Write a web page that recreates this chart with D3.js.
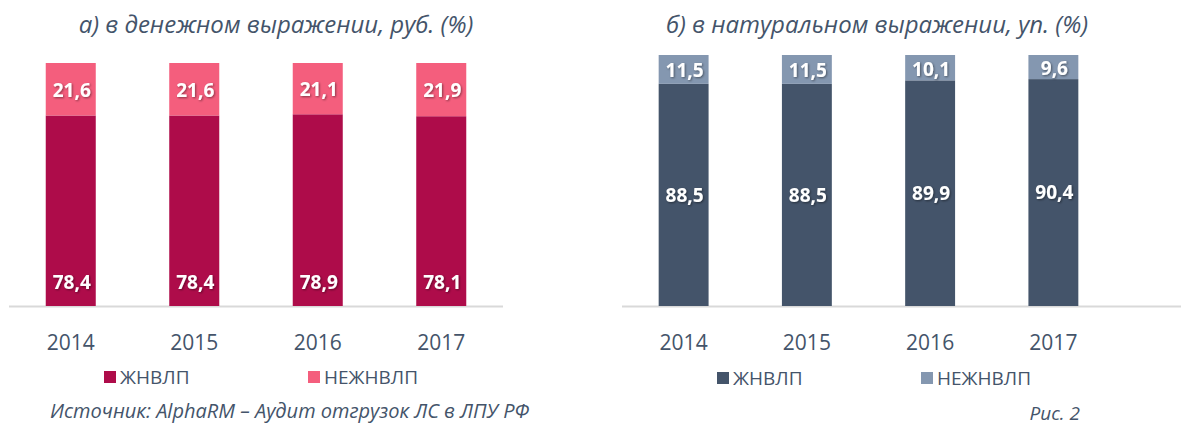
<!DOCTYPE html>
<html>
<head>
<meta charset="utf-8">
<script src="https://cdn.jsdelivr.net/npm/d3@7"></script>
<style>
  body { margin: 0; background: #fff; }
  svg { display: block; font-family: "Open Sans", sans-serif; }
</style>
</head>
<body>
<svg id="chart" width="1181" height="428"></svg>
<script>
// данные
var years = ["2014", "2015", "2016", "2017"];
var seriesNames = ["ЖНВЛП", "НЕЖНВЛП"];
var moneyVital = [78.4, 78.4, 78.9, 78.1];
var moneyOther = [21.6, 21.6, 21.1, 21.9];
var unitsVital = [88.5, 88.5, 89.9, 90.4];
var unitsOther = [11.5, 11.5, 10.1, 9.6];

var textColor = "#44546a";
var svg = d3.select("#chart");

var defs = svg.append("defs");
var f = defs.append("filter").attr("id", "shadow")
  .attr("x", "-20%").attr("y", "-20%").attr("width", "140%").attr("height", "140%");
f.append("feDropShadow").attr("dx", 1).attr("dy", 1).attr("stdDeviation", 1)
  .attr("flood-color", "#000").attr("flood-opacity", 0.45);

function fmt(v) { return v.toFixed(1).replace(".", ","); }

// одна панель
function drawPanel(opt) {
  var g = svg.append("g");

  var x = d3.scaleBand().domain(years).range([opt.x0, opt.x1]).padding(0);
  var y = d3.scaleLinear().domain([0, 100]).range([306, opt.top]);
  var bw = x.bandwidth() * 0.405;

  var rows = years.map(function (yr, i) {
    return { year: yr, a: opt.vital[i], b: opt.other[i] };
  });

  // ось
  g.append("line")
    .attr("x1", opt.axisX0).attr("x2", opt.axisX1)
    .attr("y1", 306.5).attr("y2", 306.5)
    .attr("stroke", "#d9d9d9").attr("stroke-width", 2);

  var bars = g.selectAll(".bar").data(rows).enter().append("g").attr("class", "bar");

  bars.append("rect")
    .attr("x", function (d) { return x(d.year) + (x.bandwidth() - bw) / 2; })
    .attr("width", bw)
    .attr("y", function (d) { return y(d.a); })
    .attr("height", function (d) { return y(0) - y(d.a); })
    .attr("fill", opt.colors[0]);

  bars.append("rect")
    .attr("x", function (d) { return x(d.year) + (x.bandwidth() - bw) / 2; })
    .attr("width", bw)
    .attr("y", function (d) { return y(d.a + d.b); })
    .attr("height", function (d) { return y(d.a) - y(d.a + d.b); })
    .attr("fill", opt.colors[1]);

  // подписи значений
  bars.append("text")
    .attr("x", function (d) { return x(d.year) + x.bandwidth() / 2 + 1; })
    .attr("y", function (d) {
      return opt.lowerAtBase ? y(0) - 24 : (y(0) + y(d.a)) / 2;
    })
    .attr("dy", "0.36em")
    .attr("text-anchor", "middle")
    .attr("fill", "#fff").attr("font-weight", "bold").attr("font-size", 19)
    .attr("filter", "url(#shadow)")
    .text(function (d) { return fmt(d.a); });

  bars.append("text")
    .attr("x", function (d) { return x(d.year) + x.bandwidth() / 2 + 1; })
    .attr("y", function (d) { return (y(d.a) + y(d.a + d.b)) / 2 + 1; })
    .attr("dy", "0.36em")
    .attr("text-anchor", "middle")
    .attr("fill", "#fff").attr("font-weight", "bold").attr("font-size", 19)
    .attr("filter", "url(#shadow)")
    .text(function (d) { return fmt(d.b); });

  // подписи годов
  var axis = d3.axisBottom(x).tickSize(0).tickPadding(0);
  var ax = g.append("g").attr("transform", "translate(0,350)").call(axis);
  ax.select(".domain").remove();
  ax.selectAll("text")
    .attr("font-size", 21).attr("fill", textColor)
    .attr("font-family", "Open Sans, sans-serif")
    .attr("dy", 0);

  // заголовок
  g.append("text")
    .attr("x", opt.titleX).attr("y", 33)
    .attr("text-anchor", "middle")
    .attr("font-style", "italic").attr("font-size", 24)
    .attr("fill", textColor)
    .text(opt.title);

  // легенда
  seriesNames.forEach(function (name, i) {
    var lx = opt.legendX[i];
    g.append("rect")
      .attr("x", lx).attr("y", opt.legendY - 6)
      .attr("width", 12).attr("height", 12)
      .attr("fill", opt.colors[i]);
    g.append("text")
      .attr("x", lx + 16).attr("y", opt.legendY)
      .attr("dy", "0.36em")
      .attr("font-size", 19).attr("fill", textColor)
      .text(name);
  });
}

drawPanel({
  x0: 9, x1: 503, axisX0: 9, axisX1: 503, top: 63,
  vital: moneyVital, other: moneyOther,
  colors: ["#ae0c4a", "#f45e7d"],
  lowerAtBase: true,
  title: "а) в денежном выражении, руб. (%)", titleX: 276,
  legendX: [104, 308], legendY: 377
});

drawPanel({
  x0: 622, x1: 1115, axisX0: 622, axisX1: 1181, top: 55,
  vital: unitsVital, other: unitsOther,
  colors: ["#44546a", "#8497b0"],
  lowerAtBase: false,
  title: "б) в натуральном выражении, уп. (%)", titleX: 877,
  legendX: [717, 921], legendY: 378
});

// источник
svg.append("text")
  .attr("x", 50).attr("y", 418)
  .attr("font-style", "italic").attr("font-size", 20)
  .attr("fill", textColor)
  .text("Источник: AlphaRM – Аудит отгрузок ЛС в ЛПУ РФ");

svg.append("text")
  .attr("x", 1080).attr("y", 420)
  .attr("text-anchor", "end")
  .attr("font-style", "italic").attr("font-size", 19)
  .attr("fill", textColor)
  .text("Рис. 2");
</script>
</body>
</html>
